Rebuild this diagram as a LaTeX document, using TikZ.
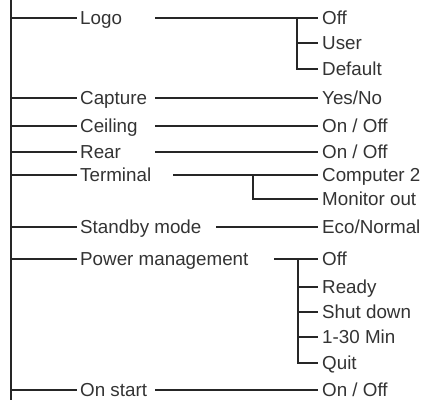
\documentclass[tikz,border=0pt]{standalone}
\usepackage{fontspec}
\setmainfont{Liberation Sans}
\usepackage{tikz}
\usetikzlibrary{positioning, calc}

\tikzset{
  menu/.style={anchor=west, inner xsep=3pt, inner ysep=0pt,
    text height=13pt, text depth=0pt,
    font=\fontsize{18.8}{20}\selectfont, text=black!80},
  choice/.style={menu, inner xsep=4pt},
  wire/.style={black!85, line width=1.1pt}
}

\begin{document}
\begin{tikzpicture}[x=1pt, y=-1pt]
  \useasboundingbox (0,0) rectangle (423,400);
  %% spine
  \coordinate (top) at (11,0);
  \coordinate (bot) at (11,400);
  \draw[wire] (top) -- (bot);
  %% first level
  \foreach \name/\y/\txt in {logo/18/Logo, capture/98/Capture,
      ceiling/126/Ceiling, rear/152/Rear, terminal/175/Terminal,
      standby/227/Standby mode, power/259/Power management,
      onstart/390/On start}{
    \node[menu] (\name) at (77,\y) {\txt};
    \draw[wire] (top |- \name.west) -- (\name.west);
  }
  %% columns where the right wires start
  \coordinate (c1) at (155,0);
  \coordinate (c2) at (173,0);
  \coordinate (c3) at (216,0);
  \coordinate (c4) at (274,0);
  %% logo
  \node[choice] (logo-off) at (318,18) {Off};
  \node[choice] (logo-user) at (318,43) {User};
  \node[choice] (logo-def) at (318,69) {Default};
  \coordinate (logo-j) at (297,18);
  \draw[wire] (logo.west -| c1) -- (logo-off.west);
  \draw[wire] (logo-j) |- (logo-def.west);
  \draw[wire] (logo-j |- logo-user.west) -- (logo-user.west);
  %% single choices
  \node[choice] (capture-v) at (318,98) {Yes/No};
  \node[choice] (ceiling-v) at (318,126) {On / Off};
  \node[choice] (rear-v) at (318,152) {On / Off};
  \node[choice] (standby-v) at (318,227) {Eco/Normal};
  \node[choice] (onstart-v) at (318,390) {On / Off};
  \draw[wire] (capture.west -| c1) -- (capture-v.west);
  \draw[wire] (ceiling.west -| c1) -- (ceiling-v.west);
  \draw[wire] (rear.west -| c1) -- (rear-v.west);
  \draw[wire] (standby.west -| c3) -- (standby-v.west);
  \draw[wire] (onstart.west -| c1) -- (onstart-v.west);
  %% terminal
  \node[choice] (term-pc) at (318,175) {Computer 2};
  \node[choice] (term-mon) at (318,199) {Monitor out};
  \coordinate (term-j) at (253,175);
  \draw[wire] (terminal.west -| c2) -- (term-pc.west);
  \draw[wire] (term-j) |- (term-mon.west);
  %% power management
  \node[choice] (pm-off) at (318,259) {Off};
  \node[choice] (pm-ready) at (318,287) {Ready};
  \node[choice] (pm-shut) at (318,312) {Shut down};
  \node[choice] (pm-min) at (318,337) {1-30 Min};
  \node[choice] (pm-quit) at (318,363) {Quit};
  \coordinate (pm-j) at (298,259);
  \draw[wire] (power.west -| c4) -- (pm-off.west);
  \draw[wire] (pm-j) |- (pm-quit.west);
  \foreach \k in {pm-ready, pm-shut, pm-min}
    \draw[wire] (pm-j |- \k.west) -- (\k.west);
\end{tikzpicture}
\end{document}
